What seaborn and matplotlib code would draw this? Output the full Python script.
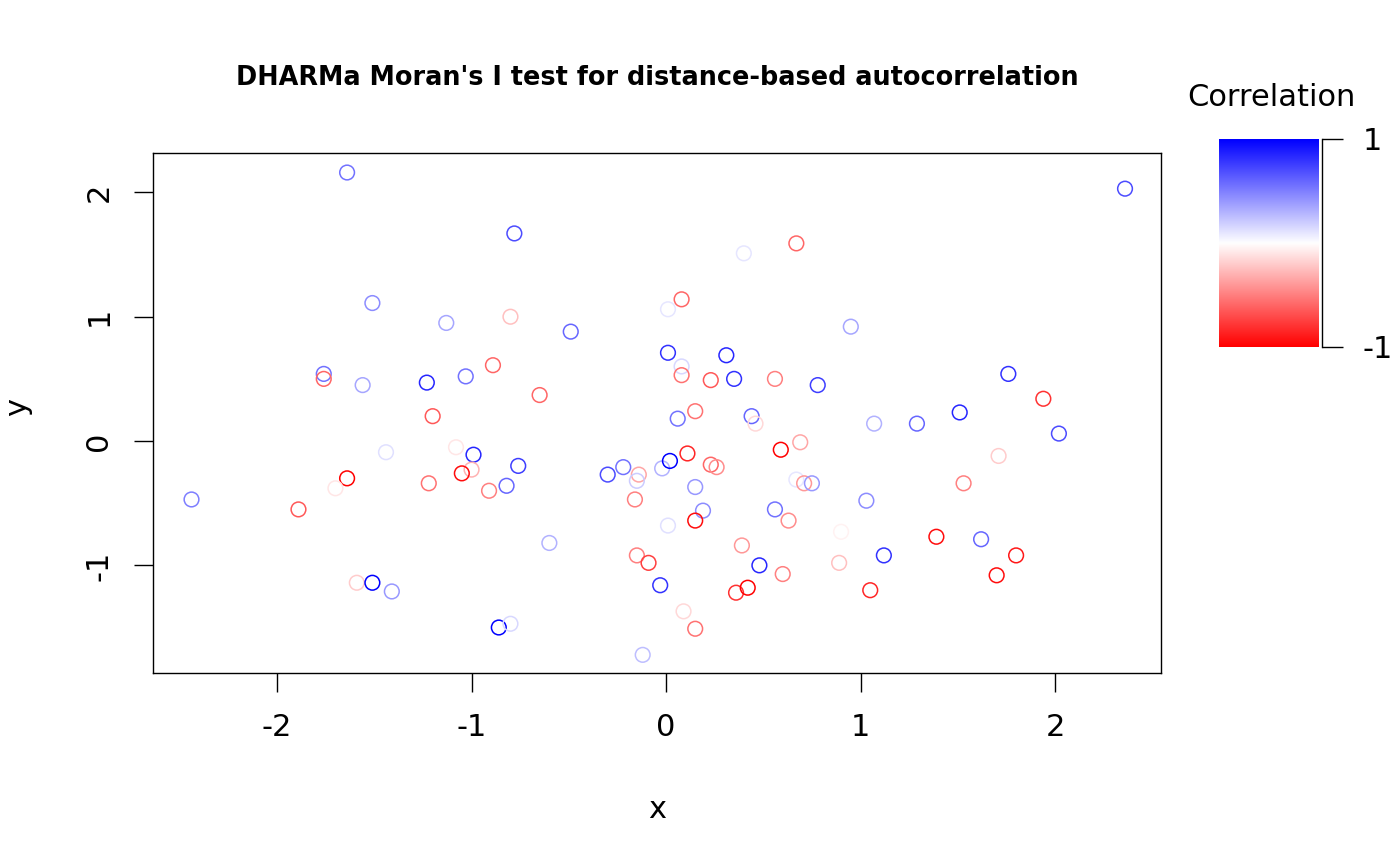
import numpy as np
import pandas as pd
import matplotlib
matplotlib.use("Agg")
import matplotlib.pyplot as plt
from matplotlib.colors import LinearSegmentedColormap, Normalize
import seaborn as sns

# residual locations and their correlation values
x = [-1.64, -1.51, -1.13, -1.76, -1.76, -1.56, -1.23, -1.03, -1.20, -0.89,
     -0.80, -0.78, -0.49, -0.65, -1.44, -1.08, -0.99, -1.00, -1.05, -1.22,
     -0.91, -1.64, -1.70, -2.44, -1.89, -1.59, -1.51, -1.41, -0.86, -0.80,
     0.06, 0.15, 0.44, 0.46, 0.59, 0.69, -0.76, -0.82, -0.30, -0.22,
     -0.14, -0.15, -0.02, 0.02, 0.11, 0.23, 0.26, 0.15, -0.16, 0.19,
     0.15, 0.01, -0.60, 0.67, 0.71, 0.75, 0.56, 0.63, 0.39, -0.15,
     -0.09, 0.48, 0.60, -0.03, 0.36, 0.42, 0.09, 0.15, -0.12, 0.40,
     0.67, 0.08, 0.01, 0.01, 0.31, 0.08, 0.08, 0.23, 0.35, 0.56,
     0.78, 2.36, 0.95, 1.76, 1.94, 1.51, 1.07, 1.29, 2.02, 1.71,
     1.53, 1.03, 0.90, 0.89, 1.12, 1.39, 1.62, 1.80, 1.70, 1.05]
y = [2.16, 1.11, 0.95, 0.54, 0.50, 0.45, 0.47, 0.52, 0.20, 0.61,
     1.00, 1.67, 0.88, 0.37, -0.09, -0.05, -0.11, -0.23, -0.26, -0.34,
     -0.40, -0.30, -0.38, -0.47, -0.55, -1.14, -1.14, -1.21, -1.50, -1.47,
     0.18, 0.24, 0.20, 0.14, -0.07, -0.01, -0.20, -0.36, -0.27, -0.21,
     -0.27, -0.32, -0.22, -0.16, -0.10, -0.19, -0.21, -0.37, -0.47, -0.56,
     -0.64, -0.68, -0.82, -0.31, -0.34, -0.34, -0.55, -0.64, -0.84, -0.92,
     -0.98, -1.00, -1.07, -1.16, -1.22, -1.18, -1.37, -1.51, -1.72, 1.51,
     1.59, 1.14, 1.06, 0.71, 0.69, 0.60, 0.53, 0.49, 0.50, 0.50,
     0.45, 2.03, 0.92, 0.54, 0.34, 0.23, 0.14, 0.14, 0.06, -0.12,
     -0.34, -0.48, -0.73, -0.98, -0.92, -0.77, -0.79, -0.92, -1.08, -1.20]
corr = [0.55, 0.45, 0.35, 0.55, -0.6, 0.35, 0.85, 0.55, -0.65, -0.6,
        -0.25, 0.7, 0.6, -0.6, 0.12, -0.1, 0.85, -0.3, -0.95, -0.55,
        -0.5, -1.0, -0.1, 0.5, -0.65, -0.2, 1.0, 0.4, 1.0, 0.15,
        0.55, -0.55, 0.6, -0.15, -1.0, -0.35, 0.75, 0.6, 0.7, 0.55,
        -0.35, 0.2, 0.3, 1.0, -0.85, -0.6, -0.45, 0.4, -0.5, 0.45,
        -0.95, 0.12, 0.3, 0.1, -0.4, 0.4, 0.55, -0.45, -0.4, -0.5,
        -0.75, 0.85, -0.5, 0.8, -0.8, -1.0, -0.15, -0.55, 0.25, 0.1,
        -0.6, -0.6, 0.1, 0.8, 0.85, 0.15, -0.55, -0.65, 0.8, -0.5,
        0.75, 0.7, 0.35, 0.8, -0.8, 0.85, 0.3, 0.6, 0.7, -0.2,
        -0.5, 0.45, -0.05, -0.25, 0.8, -0.95, 0.6, -0.9, -0.95, -0.85]

xticks = [-2, -1, 0, 1, 2]
yticks = [-1, 0, 1, 2]

df = pd.DataFrame({"x": x, "y": y, "corr": corr})

sns.set_theme(style="ticks")
plt.rcParams["font.family"] = ["DejaVu Sans"]
plt.rcParams["text.color"] = "black"

cmap = LinearSegmentedColormap.from_list("rwb", ["red", "white", "blue"])
norm = Normalize(-1, 1)

fig = plt.figure(figsize=(14, 8.66), dpi=100)
ax = fig.add_axes([153 / 1400, 1 - 673 / 866, 1008 / 1400, 520 / 866])

sns.scatterplot(data=df, x="x", y="y", hue="corr", palette=cmap, hue_norm=norm,
                s=112, linewidth=1.1, legend=False, ax=ax)
# open circles like R's pch = 1
pts = ax.collections[0]
pts.set_edgecolors(pts.get_facecolors())
pts.set_facecolors("none")

ax.set_xlim(-2.638, 2.545)
ax.set_ylim(-1.866, 2.317)
ax.set_xticks(xticks)
ax.set_yticks(yticks)
ax.set_xticklabels([str(v) for v in xticks])
ax.set_yticklabels([str(v) for v in yticks], rotation=90, va="center")
ax.tick_params(direction="out", length=13.5, width=1.0, labelsize=22,
               color="black", labelcolor="black")
ax.tick_params(axis="x", pad=15)
ax.tick_params(axis="y", pad=15)
for sp in ax.spines.values():
    sp.set_visible(True)
    sp.set_linewidth(1.0)
    sp.set_color("black")
ax.set_xlabel("")
ax.set_ylabel("")

fig.text(657 / 1400, 1 - 810 / 866, "x", fontsize=22, ha="center", va="center",
         color="black")
fig.text(18 / 1400, 1 - 407 / 866, "y", fontsize=22, ha="center", va="center",
         rotation=90, color="black")
fig.text(657 / 1400, 1 - 78 / 866,
         "DHARMa Moran's I test for distance-based autocorrelation",
         fontsize=18.4, fontweight="bold", ha="center", va="center",
         color="black")

# colour key on the right
cax = fig.add_axes([1219 / 1400, 1 - 347 / 866, 103 / 1400, 208 / 866])
grad = np.linspace(-1, 1, 256).reshape(-1, 1)
cax.imshow(grad, cmap=cmap, norm=norm, origin="lower", aspect="auto",
           extent=(0, 100 / 103, -1, 1))
cax.set_xlim(0, 1)
cax.set_ylim(-1, 1)
for side in ["left", "top", "bottom"]:
    cax.spines[side].set_visible(False)
cax.spines["right"].set_linewidth(1.0)
cax.spines["right"].set_color("black")
cax.set_xticks([])
cax.yaxis.tick_right()
cax.set_yticks([-1, 1])
cax.set_yticklabels(["-1", "1"])
cax.tick_params(axis="y", direction="out", length=15, width=1.0, labelsize=22,
                pad=14, color="black", labelcolor="black")
fig.text(1271 / 1400, 1 - 98 / 866, "Correlation", fontsize=22,
         ha="center", va="center", color="black")

fig.savefig("out.png", dpi=100, facecolor="white")
